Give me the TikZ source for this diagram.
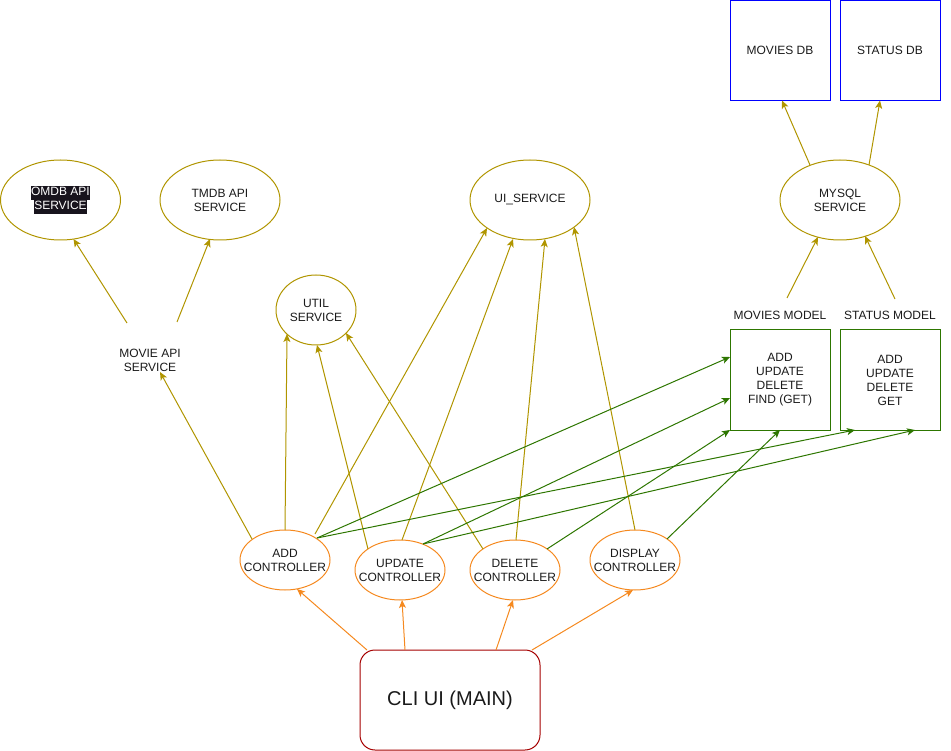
\documentclass[tikz,border=0pt]{standalone}
\usepackage{fontspec}
\setmainfont{Liberation Sans}
\usetikzlibrary{arrows.meta,shapes.geometric}
\definecolor{gold}{HTML}{B09500}
\definecolor{orng}{HTML}{F5891F}
\definecolor{grn}{HTML}{2D7600}
\definecolor{blu}{HTML}{0000FF}
\definecolor{dred}{HTML}{A50000}
\definecolor{txtc}{HTML}{1A1A1A}
\definecolor{hl}{HTML}{18141D}
\begin{document}
\begin{tikzpicture}[x=1pt,y=-1pt,line width=1pt,
  every node/.style={font=\fontsize{12}{14}\selectfont,text=txtc,align=center},
  svc/.style={ellipse,draw=gold,minimum width=120pt,minimum height=80pt,inner sep=0pt},
  utilsvc/.style={ellipse,draw=gold,minimum width=80pt,minimum height=70pt,inner sep=0pt},
  ctrl/.style={ellipse,draw=orng,minimum width=90pt,minimum height=60pt,inner sep=0pt},
  dbbox/.style={rectangle,draw=blu,minimum width=100pt,minimum height=100pt,inner sep=0pt},
  modelbox/.style={rectangle,draw=grn,minimum width=100pt,minimum height=100pt,inner sep=0pt},
  plain/.style={inner sep=0pt},
  tipA/.style={-{Stealth[length=8pt,width=7pt,inset=2pt]}},
  garr/.style={draw=gold,tipA},
  oarr/.style={draw=orng,tipA},
  grarr/.style={draw=grn,tipA}]
\useasboundingbox (0,0) rectangle (951,751);

% services
\node[svc,label={[plain]center:{\setlength{\fboxsep}{0pt}\colorbox{hl}{\strut\textcolor{white}{OMDB API}}}\\{\setlength{\fboxsep}{0pt}\colorbox{hl}{\strut\textcolor{white}{SERVICE}}}}] (omdb) at (60.5,200) {};
\node[svc,label={[plain]center:TMDB API\\SERVICE}] (tmdb) at (220,200) {};
\node[plain] (mapi) at (150,360) {MOVIE API\\SERVICE};
\node[utilsvc,label={[plain]center:UTIL\\SERVICE}] (util) at (316,310) {};
\node[svc,label={[plain]center:UI\_SERVICE}] (ui) at (530,200) {};
\node[svc,label={[plain]center:MYSQL\\SERVICE}] (mysql) at (840,200) {};

% databases
\node[dbbox] (mdb) at (780,50.5) {MOVIES DB};
\node[dbbox] (sdb) at (890,50.5) {STATUS DB};

% models
\node[plain] (mml) at (780,315) {MOVIES MODEL};
\node[plain] (sml) at (890,315) {STATUS MODEL};
\node[modelbox] (mm) at (780,380) {ADD\\UPDATE\\DELETE\\FIND (GET)};
\node[modelbox] (sm) at (890,380) {ADD\\UPDATE\\DELETE\\GET};

% controllers
\node[ctrl,label={[plain]center:ADD\\CONTROLLER}] (add) at (285,560) {};
\node[ctrl,label={[plain]center:UPDATE\\CONTROLLER}] (upd) at (400,570) {};
\node[ctrl,label={[plain]center:DELETE\\CONTROLLER}] (del) at (515,570) {};
\node[ctrl,label={[plain]center:DISPLAY\\CONTROLLER}] (disp) at (635,560) {};

% main
\node[rectangle,draw=dred,rounded corners=15pt,minimum width=180pt,minimum height=100pt,
      font=\fontsize{20}{24}\selectfont] (cli) at (450,700) {CLI UI (MAIN)};

% orange edges
\draw[oarr] ([shift={(-83,-50)}]cli.center) -- ([shift={(12,29)}]add.center);
\draw[oarr] ([shift={(-45,-50)}]cli.center) -- ([shift={(2,30)}]upd.center);
\draw[oarr] ([shift={(46,-50)}]cli.center) -- ([shift={(-2,30)}]del.center);
\draw[oarr] ([shift={(82,-50)}]cli.center) -- ([shift={(-2,30)}]disp.center);

% gold edges
\draw[garr] ([shift={(-33,-21)}]add.center) -- ([shift={(10,12)}]mapi.center);
\draw[garr] ([shift={(-23,-37)}]mapi.center) -- ([shift={(13,39)}]omdb.center);
\draw[garr] ([shift={(27,-38)}]mapi.center) -- ([shift={(-10,39)}]tmdb.center);
\draw[garr] ([shift={(0,-30)}]add.center) -- ([shift={(-29,24)}]util.center);
\draw[garr] ([shift={(30,-26)}]add.center) -- ([shift={(-43,28)}]ui.center);
\draw[garr] ([shift={(-32,-21)}]upd.center) -- ([shift={(1,35)}]util.center);
\draw[garr] ([shift={(2,-30)}]upd.center) -- ([shift={(-17,39)}]ui.center);
\draw[garr] ([shift={(-32,-21)}]del.center) -- ([shift={(30,23)}]util.center);
\draw[garr] ([shift={(1,-30)}]del.center) -- ([shift={(15,39)}]ui.center);
\draw[garr] ([shift={(0,-30)}]disp.center) -- ([shift={(44,27)}]ui.center);
\draw[garr] ([shift={(-30,-35)}]mysql.center) -- ([shift={(2,50)}]mdb.center);
\draw[garr] ([shift={(29,-35)}]mysql.center) -- ([shift={(-10,50)}]sdb.center);
\draw[garr] ([shift={(7,-17)}]mml.center) -- ([shift={(-22,37)}]mysql.center);
\draw[garr] ([shift={(5,-16)}]sml.center) -- ([shift={(25,36)}]mysql.center);

% green edges
\draw[grarr] ([shift={(32,-22)}]add.center) -- ([shift={(-50,-23)}]mm.center);
\draw[grarr] ([shift={(32,-22)}]add.center) -- ([shift={(-35,50)}]sm.center);
\draw[grarr] ([shift={(23,-26)}]upd.center) -- ([shift={(-50,18)}]mm.center);
\draw[grarr] ([shift={(23,-26)}]upd.center) -- ([shift={(25,50)}]sm.center);
\draw[grarr] ([shift={(32,-21)}]del.center) -- ([shift={(-50,50)}]mm.center);
\draw[grarr] ([shift={(32,-21)}]disp.center) -- ([shift={(0,50)}]mm.center);
\end{tikzpicture}
\end{document}
